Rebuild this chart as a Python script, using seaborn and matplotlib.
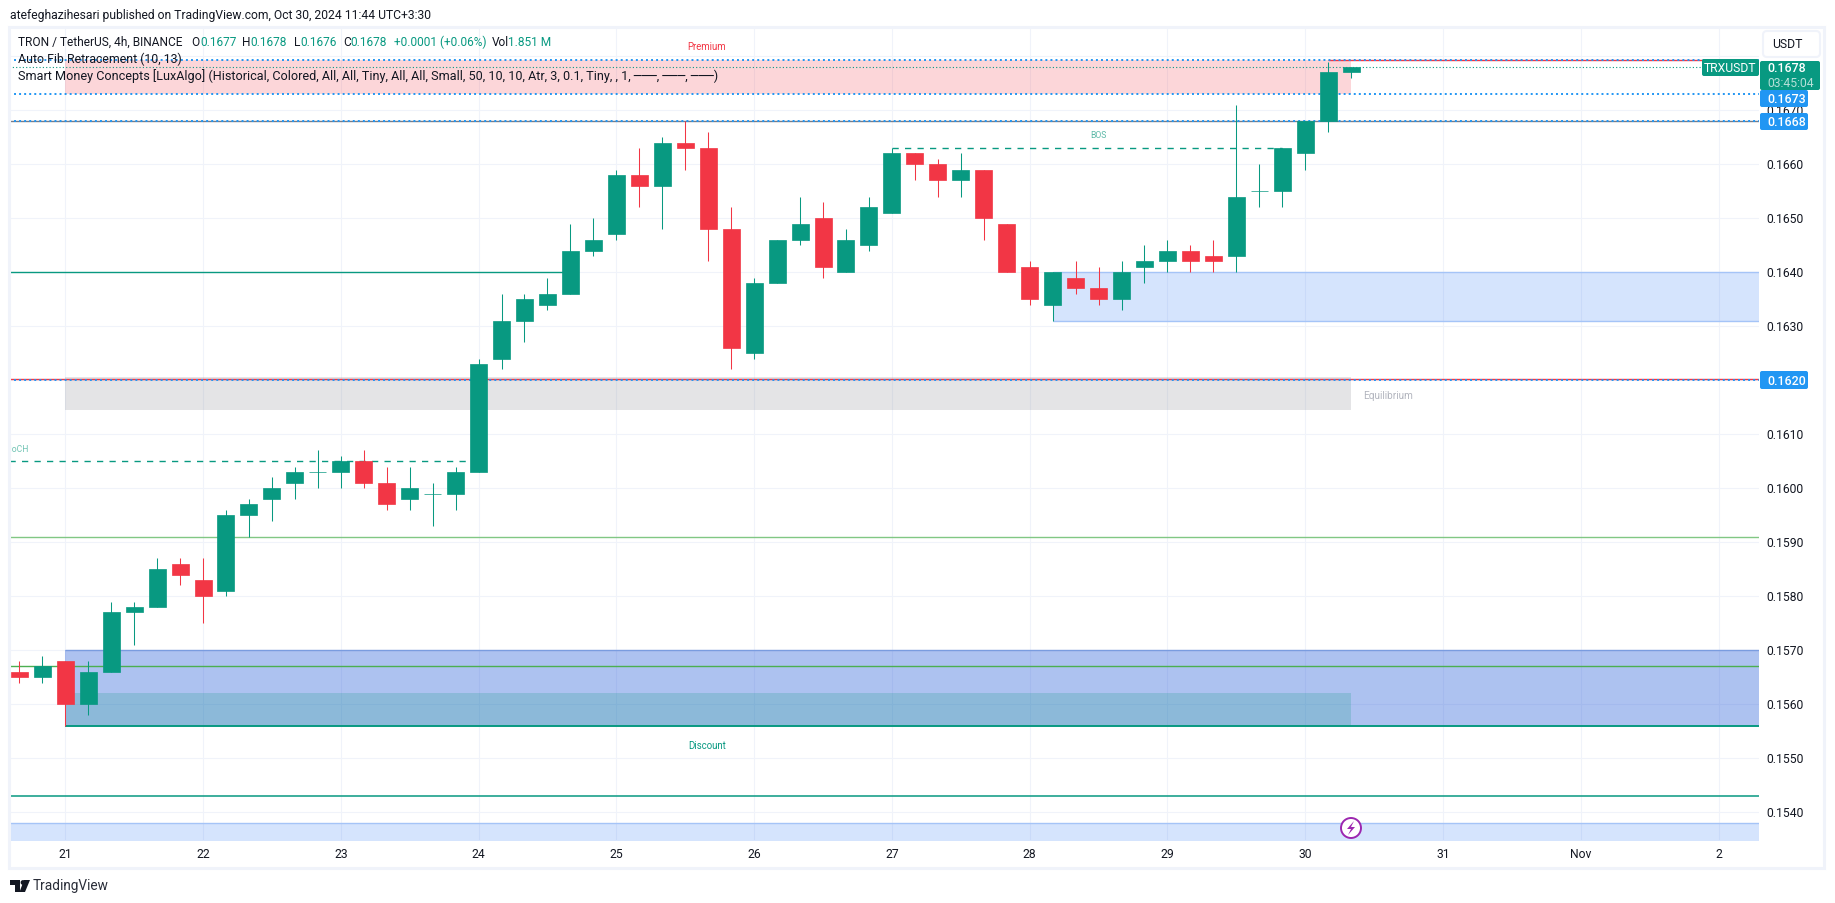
import matplotlib
matplotlib.use('Agg')
import matplotlib.pyplot as plt
from matplotlib.patches import Rectangle, Circle, Polygon, FancyBboxPatch
from matplotlib.transforms import Affine2D
import numpy as np
import pandas as pd
import seaborn as sns

# candles, 4h
opens = [.1566,.1565,.1568,.1560,.1566,.1577,.1578,.1586,.1583,.1581,.1595,.1598,.1601,.1603,.1603,.1605,.1601,.1598,.1599,.1599,
         .1603,.1624,.1631,.1634,.1636,.1644,.1647,.1658,.1656,.1664,.1663,.1648,.1625,.1638,.1646,.1650,.1640,.1645,.1651,.1662,
         .1660,.1657,.1659,.1649,.1641,.1634,.1639,.1637,.1635,.1641,.1642,.1644,.1643,.1643,.1655,.1655,.1662,.1668,.1677]
highs = [.1568,.1569,.1568,.1568,.1579,.1579,.1587,.1587,.1587,.1596,.1598,.1602,.1604,.1607,.1606,.1607,.1604,.1604,.1601,.1604,
         .1624,.1636,.1636,.1639,.1649,.1650,.1659,.1663,.1665,.1668,.1666,.1652,.1639,.1646,.1654,.1653,.1648,.1654,.1663,.1662,
         .1661,.1662,.1659,.1649,.1642,.1640,.1642,.1641,.1642,.1645,.1646,.1645,.1646,.1671,.1660,.1663,.1668,.1679,.1678]
lows = [.1564,.1564,.1556,.1558,.1566,.1571,.1578,.1582,.1575,.1580,.1591,.1594,.1598,.1600,.1600,.1600,.1596,.1596,.1593,.1596,
        .1603,.1622,.1627,.1633,.1636,.1643,.1646,.1652,.1648,.1659,.1642,.1622,.1624,.1638,.1645,.1639,.1640,.1644,.1651,.1657,
        .1654,.1654,.1646,.1640,.1634,.1631,.1636,.1634,.1633,.1638,.1640,.1640,.1640,.1640,.1652,.1652,.1659,.1666,.1676]
closes = [.1565,.1567,.1560,.1566,.1577,.1578,.1585,.1584,.1580,.1595,.1597,.1600,.1603,.1603,.1605,.1601,.1597,.1600,.1599,.1603,
          .1623,.1631,.1635,.1636,.1644,.1646,.1658,.1656,.1664,.1663,.1648,.1626,.1638,.1646,.1649,.1641,.1646,.1652,.1662,.1660,
          .1657,.1659,.1650,.1640,.1635,.1640,.1637,.1635,.1640,.1642,.1644,.1642,.1642,.1654,.1655,.1663,.1668,.1677,.1678]

# smart money levels and zones
premium_zone = (.1673, .16792)
equilibrium_zone = (.16145, .16205)
discount_zone = (.1556, .1570)
discount_inner = (.1556, .1562)
order_block = (.1631, .1640)
lower_block = (.1534, .1538)
blue_dotted = [.16792, .1673, .1668, .1620]
green_levels = [.1591, .1567]
day_idx = [2, 8, 14, 20, 26, 32, 38, 44, 50, 56, 62, 68, 74]
day_labels = ['21', '22', '23', '24', '25', '26', '27', '28', '29', '30', '31', 'Nov', '2']
price_ticks = [.1540, .1550, .1560, .1570, .1580, .1590, .1600, .1610, .1620, .1630, .1640, .1650, .1660, .1670, .1680]
price_labels = ['0.1540', '0.1550', '0.1560', '0.1570', '0.1580', '0.1590', '0.1600', '0.1610', '0.1620', '0.1630',
                '0.1640', '0.1650', '0.1660', '0.1670', '']

GREEN = '#089981'
RED = '#f23645'
BLUE = '#2196f3'
INK = '#131722'

sns.set_theme(style='white')
plt.rcParams['font.family'] = ['Roboto', 'DejaVu Sans']

df = pd.DataFrame({'idx': range(len(opens)), 'open': opens, 'high': highs, 'low': lows, 'close': closes})
df['body_low'] = df[['open', 'close']].min(axis=1)
df['body'] = (df['close'] - df['open']).abs()
df['up'] = df['close'] >= df['open']

W, H = 1835, 903
fig = plt.figure(figsize=((W + .2) / 100, (H + .2) / 100), dpi=100)
ax = fig.add_axes([9 / W, 1 - 840 / H, (1759 - 9) / W, (840 - 27) / H])
px = Affine2D().scale(1, -1).translate(0, H)  # figure pixels, origin top left

x_min, x_max = -0.449, 75.77
ax.set_xlim(x_min, x_max)

# zones
def zone(x0, x1, band, color, alpha):
    ax.fill_between([x0, x1], band[0], band[1], color=color, alpha=alpha, lw=0, zorder=1)

zone(2, 58, premium_zone, RED, .2)
zone(2, 58, equilibrium_zone, '#787b86', .2)
zone(2, x_max, discount_zone, '#1e56d8', .36)
zone(2, 58, discount_inner, GREEN, .2)
zone(45, x_max, order_block, '#3179f5', .2)
zone(x_min, x_max, lower_block, '#3179f5', .2)

# level lines
ax.hlines(order_block, 45, x_max, color='#a5c4f7', lw=1, zorder=2)
ax.hlines(lower_block[1], x_min, x_max, color='#a5c4f7', lw=1, zorder=2)
ax.hlines(discount_zone[1], 2, x_max, color='#7a9cdf', lw=1, zorder=2)
ax.hlines(discount_zone[0], 2, x_max, color=GREEN, lw=1.4, zorder=2)
ax.hlines(green_levels[0], x_min, x_max, color='#81c784', lw=1, zorder=2)
ax.hlines(green_levels[1], x_min, x_max, color='#4caf50', lw=1, zorder=2)
ax.hlines(.1543, x_min, x_max, color=GREEN, lw=1.1, zorder=2)
ax.hlines(.1640, x_min, 24, color=GREEN, lw=1, zorder=2)
ax.hlines(.1668, x_min, x_max, color='#787b86', lw=1, zorder=2)
ax.hlines(.16202, x_min, x_max, color=RED, lw=1, zorder=2)
ax.hlines(.16792, 57, x_max, color=RED, lw=1, zorder=2)
ax.hlines(blue_dotted, x_min, x_max, color=BLUE, lw=1.4, linestyles=[(0, (1, 1.6))], zorder=2)
ax.hlines(closes[-1], x_min, x_max, color=GREEN, lw=.8, linestyles=[(0, (1, 2))], zorder=2)
ax.hlines(.1605, x_min, 19.75, color=GREEN, lw=1, linestyles=[(0, (4.5, 4.5))], zorder=2)
ax.hlines(.1663, 38, 55, color=GREEN, lw=1, linestyles=[(0, (4.5, 4.5))], zorder=2)

# candles
for is_up, color in [(True, GREEN), (False, RED)]:
    part = df[df['up'] == is_up]
    ax.vlines(part['idx'], part['low'], part['high'], color=color, lw=.75, zorder=3)
    sns.barplot(data=part, x='idx', y='body', bottom=part['body_low'].to_numpy(), native_scale=True,
                width=.74, color=color, saturation=1, errorbar=None, linewidth=.5, edgecolor=color,
                zorder=4, ax=ax)

ax.set_xlim(x_min, x_max)
ax.set_ylim(.1640 - (840 - 272.3) / 54000, .1640 + (272.3 - 27) / 54000)
ax.set_xlabel('')
ax.set_ylabel('')
ax.set_xticks(day_idx)
ax.set_xticklabels(day_labels)
ax.set_yticks(price_ticks)
ax.set_yticklabels(price_labels)
ax.yaxis.tick_right()
ax.tick_params(axis='both', length=0, labelsize=8.7, labelcolor=INK)
ax.tick_params(axis='x', pad=5.5)
ax.tick_params(axis='y', pad=5.5)
ax.grid(True, color='#f0f3fa', lw=.8)
ax.set_axisbelow(True)
for sp in ax.spines.values():
    sp.set_visible(False)

# small chart labels
ax.text(29.95, .16817, 'Premium', color=RED, fontsize=6.9, ha='center', va='center', zorder=5)
ax.text(47.0, .16653, 'BOS', color='#5db9a8', fontsize=6.2, ha='center', va='center', zorder=5)
ax.text(-0.2, .16072, 'CHoCH', color='#6fc3b3', fontsize=6.2, ha='center', va='center', zorder=5, clip_on=True)
ax.text(29.95, .15523, 'Discount', color=GREEN, fontsize=6.9, ha='center', va='center', zorder=5)
ax.text(58.5, .16171, 'Equilibrium', color='#b2b5be', fontsize=7.2, ha='left', va='center', zorder=5)

# frame
fig.add_artist(Rectangle((9, 27), 1815, 841, transform=px, fill=False, edgecolor='#f0f3fa', lw=2.2))

# price labels on the axis
def tag(x0, y0, x1, y1, color):
    fig.add_artist(FancyBboxPatch((x0, y0), x1 - x0, y1 - y0, boxstyle='round,pad=0,rounding_size=2',
                                  transform=px, facecolor=color, edgecolor='none', zorder=2))

fig.add_artist(FancyBboxPatch((1763, 31), 57, 26, boxstyle='round,pad=0,rounding_size=4', transform=px,
                              facecolor='white', edgecolor='#f0f3fa', lw=1.5, zorder=2))
fig.text(1772, 44, 'USDT', transform=px, fontsize=8.8, color=INK, va='center')
tag(1760, 61, 1820, 90, GREEN)
tag(1702, 59, 1759, 76, GREEN)
tag(1760, 90, 1808, 107, BLUE)
tag(1760, 113, 1808, 130, BLUE)
tag(1760, 371, 1808, 389, BLUE)
fig.text(1730.5, 68, 'TRXUSDT', transform=px, fontsize=8.7, color='white', ha='center', va='center')
fig.text(1767, 68, '0.1678', transform=px, fontsize=8.9, color='white', va='center', fontweight='medium')
fig.text(1767, 83, '03:45:04', transform=px, fontsize=8.7, color='#b5e0d8', va='center')
fig.text(1767, 99, '0.1673', transform=px, fontsize=8.9, color='white', va='center', fontweight='medium')
fig.text(1767, 122, '0.1668', transform=px, fontsize=8.9, color='white', va='center', fontweight='medium')
fig.text(1767, 381, '0.1620', transform=px, fontsize=8.9, color='white', va='center', fontweight='medium')

# header texts
fig.text(10, 15, 'atefeghazihesari published on TradingView.com, Oct 30, 2024 11:44 UTC+3:30',
         transform=px, fontsize=8.7, color=INK, va='center')
fig.text(18, 42, 'TRON / TetherUS, 4h, BINANCE', transform=px, fontsize=8.6, color=INK, va='center')
for xpos, s, col in [(191.5, 'O', INK), (200, '0.1677', GREEN), (242.4, 'H', INK), (250.6, '0.1678', GREEN),
                     (293.7, 'L', INK), (300.5, '0.1676', GREEN), (343, 'C', INK), (350, '0.1678', GREEN),
                     (393.6, '+0.0001 (+0.06%)', GREEN), (492, 'Vol', INK), (508.5, '1.851 M', GREEN)]:
    fig.text(xpos, 42, s, transform=px, fontsize=8.6, color=col, va='center')
fig.text(18, 59, 'Auto Fib Retracement (10, 13)', transform=px, fontsize=8.9, color=INK, va='center')
fig.text(18, 76, 'Smart Money Concepts [LuxAlgo] (Historical, Colored, All, All, Tiny, All, All, Small, 50, 10, 10, '
                 'Atr, 3, 0.1, Tiny, , 1, ───, ───, ───)', transform=px, fontsize=9.05, color=INK, va='center')

# lightning badge
fig.add_artist(Circle((1351, 828), 10, transform=px, facecolor='white', edgecolor='#9c27b0', lw=1.4, zorder=2))
fig.add_artist(Polygon([(1354, 821), (1347, 829), (1351, 829), (1348, 835), (1355, 827), (1351, 827)],
                       transform=px, facecolor='#9c27b0', edgecolor='none', zorder=3))

# TradingView logo
fig.add_artist(Polygon([(10, 880), (20, 880), (20, 892), (15, 892), (15, 885), (10, 885)], transform=px,
                       facecolor=INK, edgecolor='none'))
fig.add_artist(Circle((23, 882.5), 2.4, transform=px, facecolor=INK, edgecolor='none'))
fig.add_artist(Polygon([(25, 892), (19.5, 892), (24, 880), (30, 880)], transform=px, facecolor=INK, edgecolor='none'))
fig.text(33, 886, 'TradingView', transform=px, fontsize=9.8, color='#2a2e39', va='center')

fig.savefig('out.png', dpi=100)
